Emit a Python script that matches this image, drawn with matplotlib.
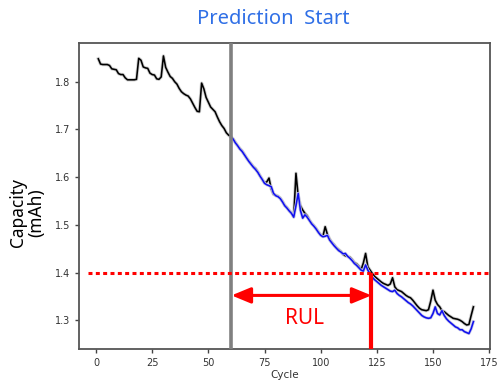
import matplotlib
matplotlib.use("Agg")
import matplotlib.pyplot as plt
import matplotlib.patheffects as pe

# ---- data ----
actual_cycles = list(range(1, 169))
actual_capacity = [
    1.848, 1.837, 1.836, 1.836, 1.836, 1.834, 1.827, 1.826, 1.825, 1.817,
    1.815, 1.815, 1.808, 1.804, 1.804, 1.804, 1.804, 1.805, 1.849, 1.845,
    1.831, 1.829, 1.828, 1.818, 1.815, 1.814, 1.806, 1.805, 1.810, 1.854,
    1.830, 1.820, 1.811, 1.807, 1.800, 1.795, 1.786, 1.779, 1.775, 1.772,
    1.770, 1.764, 1.755, 1.746, 1.738, 1.737, 1.797, 1.785, 1.767, 1.757,
    1.747, 1.742, 1.737, 1.726, 1.716, 1.708, 1.702, 1.693, 1.688, 1.685,
    1.680, 1.673, 1.666, 1.660, 1.655, 1.648, 1.640, 1.634, 1.628, 1.622,
    1.618, 1.611, 1.603, 1.595, 1.588, 1.590, 1.598, 1.575, 1.564, 1.562,
    1.560, 1.556, 1.549, 1.541, 1.536, 1.530, 1.525, 1.517, 1.608, 1.560,
    1.540, 1.531, 1.524, 1.519, 1.510, 1.503, 1.498, 1.492, 1.485, 1.479,
    1.476, 1.496, 1.480, 1.470, 1.463, 1.458, 1.452, 1.448, 1.444, 1.438,
    1.435, 1.434, 1.432, 1.427, 1.421, 1.418, 1.413, 1.406, 1.420, 1.440,
    1.412, 1.405, 1.398, 1.392, 1.388, 1.384, 1.380, 1.377, 1.375, 1.373,
    1.376, 1.389, 1.370, 1.364, 1.362, 1.360, 1.356, 1.352, 1.349, 1.347,
    1.342, 1.336, 1.330, 1.325, 1.322, 1.321, 1.320, 1.322, 1.340, 1.363,
    1.342, 1.333, 1.328, 1.320, 1.318, 1.314, 1.310, 1.307, 1.304, 1.303,
    1.302, 1.300, 1.297, 1.293, 1.290, 1.291, 1.310, 1.328,
]

pred_cycles = list(range(60, 169))
pred_capacity = [
    1.684, 1.680, 1.672, 1.666, 1.659, 1.654, 1.647, 1.640, 1.633, 1.627,
    1.621, 1.616, 1.610, 1.602, 1.595, 1.587, 1.584, 1.582, 1.580, 1.566,
    1.561, 1.559, 1.555, 1.548, 1.540, 1.535, 1.529, 1.524, 1.516, 1.540,
    1.566, 1.530, 1.514, 1.521, 1.516, 1.509, 1.502, 1.497, 1.491, 1.484,
    1.478, 1.475, 1.476, 1.478, 1.468, 1.462, 1.456, 1.451, 1.446, 1.443,
    1.439, 1.440, 1.434, 1.430, 1.425, 1.419, 1.415, 1.410, 1.405, 1.403,
    1.416, 1.405, 1.397, 1.390, 1.385, 1.381, 1.377, 1.373, 1.370, 1.367,
    1.364, 1.361, 1.360, 1.363, 1.356, 1.352, 1.349, 1.345, 1.341, 1.337,
    1.334, 1.330, 1.325, 1.320, 1.315, 1.310, 1.307, 1.305, 1.304, 1.305,
    1.314, 1.328, 1.314, 1.311, 1.320, 1.310, 1.303, 1.298, 1.294, 1.290,
    1.286, 1.284, 1.280, 1.280, 1.276, 1.274, 1.272, 1.282, 1.297,
]

start_cycle = 60
eol_cycle = 122.6
threshold = 1.4
arrow_y = 1.352
xticks = [0, 25, 50, 75, 100, 125, 150, 175]
yticks = [1.3, 1.4, 1.5, 1.6, 1.7, 1.8]

fig = plt.figure(figsize=(4.98, 3.85), dpi=100)
ax = fig.add_axes([0.1586, 0.0948, 0.8254, 0.7927])

ax.plot(actual_cycles, actual_capacity, color="black", lw=1.15, zorder=3,
        path_effects=[pe.withStroke(linewidth=2.4, foreground="#cfcfcf")])
ax.plot(pred_cycles, pred_capacity, color="#1010ee", lw=1.15, zorder=4,
        path_effects=[pe.withStroke(linewidth=2.2, foreground="#c8c8e8")])

ax.axvline(start_cycle, color="#808080", lw=2.6, zorder=5)
ax.hlines(threshold, -3.5, 175.4, colors="red", lw=2.2,
          linestyles=(0, (1.3, 1.1)), zorder=6)
ax.vlines(eol_cycle, 1.2407, threshold, colors="red", lw=3.0, zorder=6)

ax.annotate("", xy=(eol_cycle, arrow_y), xytext=(start_cycle + 0.3, arrow_y),
            arrowprops=dict(arrowstyle="<|-|>,head_length=0.58,head_width=0.24",
                            mutation_scale=20, color="red", lw=2.2,
                            shrinkA=0, shrinkB=0), zorder=7)
ax.text(93, 1.304, "RUL", color="red", fontsize=15, ha="center", va="center",
        family="Noto Sans")

ax.set_xlim(-7.6, 175.4)
ax.set_ylim(1.2407, 1.8805)
ax.set_xticks(xticks)
ax.set_yticks(yticks)
ax.tick_params(labelsize=7, colors="#444444", length=3, width=1, labelcolor="#333333")
for s in ax.spines.values():
    s.set_color("#555555")
    s.set_linewidth(1.3)
ax.set_xlabel("Cycle", fontsize=7.5, color="#333333", labelpad=2)

fig.text(0.548, 0.951, "Prediction  Start", color="#2f6fe6", fontsize=14.5,
         ha="center", va="center", family="Noto Sans")
fig.text(0.054, 0.447, "Capacity\n(mAh)", color="black", fontsize=12.5,
         ha="center", va="center", rotation=90, multialignment="center",
         family="Noto Sans", linespacing=1.0)

fig.savefig("out.png", dpi=100)
